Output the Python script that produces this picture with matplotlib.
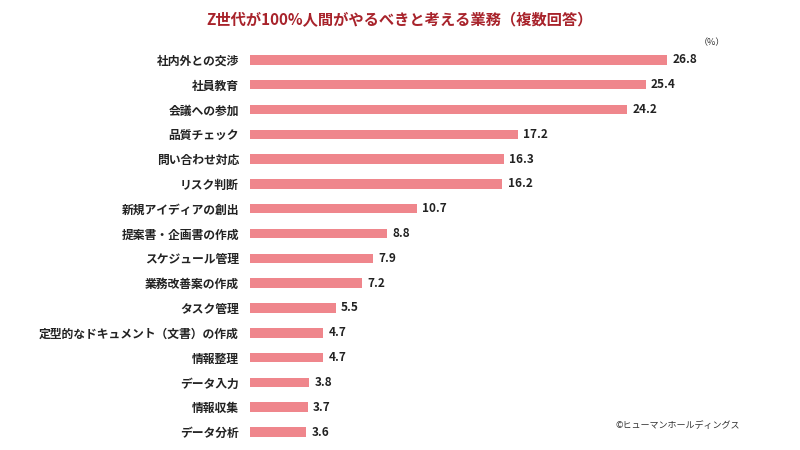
import matplotlib
matplotlib.use("Agg")
import matplotlib.pyplot as plt

plt.rcParams['font.family'] = ['Noto Sans CJK JP', 'DejaVu Sans']

categories = ["社内外との交渉", "社員教育", "会議への参加", "品質チェック", "問い合わせ対応",
              "リスク判断", "新規アイディアの創出", "提案書・企画書の作成", "スケジュール管理",
              "業務改善案の作成", "タスク管理", "定型的なドキュメント（文書）の作成", "情報整理",
              "データ入力", "情報収集", "データ分析"]
values = [26.8, 25.4, 24.2, 17.2, 16.3, 16.2, 10.7, 8.8, 7.9, 7.2, 5.5, 4.7, 4.7, 3.8, 3.7, 3.6]

fig = plt.figure(figsize=(8, 4.5), dpi=100)
ax = fig.add_axes([0.3125, 0.0124, 0.584, 0.882])
y = list(range(len(categories)))
ax.barh(y, values, height=0.38, color="#ef868c")
ax.set_ylim(len(categories) - 0.5, -0.5)
ax.set_xlim(0, 30)
for yi, v in zip(y, values):
    ax.text(v + 0.35, yi, f"{v}", va="center", ha="left", fontsize=8.5, fontweight="bold", color="#222222")
ax.set_yticks(y)
ax.set_yticklabels(categories, fontsize=8.5, fontweight="bold", color="#222222")
ax.tick_params(axis="y", length=0, pad=8)
ax.set_xticks([])
for s in ax.spines.values():
    s.set_visible(False)

fig.text(0.5, 0.955, "Z世代が100%人間がやるべきと考える業務（複数回答）", ha="center", va="center",
         fontsize=11, fontweight="bold", color="#a8232b")
fig.text(0.89, 0.905, "（%）", ha="center", va="center", fontsize=6.5, color="#333333")
fig.text(0.77, 0.055, "©ヒューマンホールディングス", ha="left", va="center", fontsize=6.5, color="#333333")

fig.savefig("out.png", dpi=100, facecolor="white")
